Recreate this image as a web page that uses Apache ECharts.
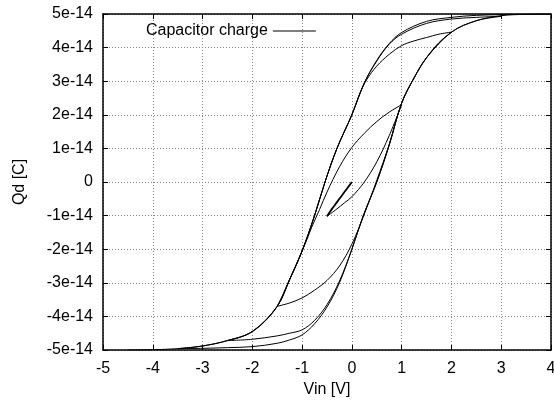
<!DOCTYPE html>
<html><head><meta charset="utf-8">
<script src="https://cdn.jsdelivr.net/npm/echarts@6/dist/echarts.min.js"></script>
<style>html,body{margin:0;padding:0;background:#fff}#c{width:554px;height:401px}</style>
</head><body><div id="c"></div>
<script>
// Values in units of 1e-14 C, [Vin, Qd]
const UNIT = 1e-14;
const xTicks = [-5,-4,-3,-2,-1,0,1,2,3,4];
const yTicks = [-5,-4,-3,-2,-1,0,1,2,3,4,5];
const sweep0 = [[0,0],[-0.1,-0.2],[-0.2,-0.4],[-0.3,-0.6],[-0.4,-0.8],[-0.5,-1.02]];
const sweep1 = [[-0.5,-1.02],[-0.3,-0.8],[-0.15,-0.62],[0,-0.44],[0.25,0.0],[0.5,0.6],[0.75,1.38],[1,2.3]];
const sweep2 = [[1,2.3],[0.75,2.08],[0.5,1.8],[0.25,1.45],[0,1.03],[-0.25,0.45],[-0.5,-0.3],[-0.65,-0.82],[-0.8,-1.32],[-0.9,-1.7],[-1,-2.05],[-1.1,-2.4],[-1.25,-2.9],[-1.4,-3.4],[-1.5,-3.7]];
const sweep3 = [[-1.5,-3.7],[-1.25,-3.6],[-1,-3.45],[-0.75,-3.22],[-0.5,-2.93],[-0.25,-2.5],[0,-1.85],[0.25,-0.95],[0.5,0.05],[0.75,1.12],[1,2.35],[1.25,3.1],[1.5,3.7],[1.75,4.15],[2,4.46]];
const sweep4 = [[2,4.46],[1.75,4.4],[1.5,4.3],[1.25,4.2],[1,4.06],[0.75,3.8],[0.5,3.45],[0.3,3.05],[0.15,2.6],[0,2.0],[-0.3,1.0],[-0.54,0],[-0.75,-1.0],[-1,-2.05],[-1.25,-2.9],[-1.5,-3.7],[-1.75,-4.15],[-2,-4.45],[-2.25,-4.62],[-2.5,-4.72]];
const sweep5 = [[-2.5,-4.72],[-2,-4.68],[-1.5,-4.58],[-1.25,-4.5],[-1,-4.4],[-0.75,-4.12],[-0.5,-3.65],[-0.25,-2.95],[0,-2.0],[0.23,-1.0],[0.5,0],[0.75,1.1],[1,2.35],[1.25,3.1],[1.5,3.7],[2,4.46],[2.5,4.8],[3,4.93]];
const sweep6 = [[3,4.93],[2.5,4.9],[2,4.85],[1.5,4.72],[1,4.4],[0.75,4.1],[0.5,3.6],[0.25,2.95],[0,2.0],[-0.3,1.0],[-0.54,0],[-0.75,-1.0],[-1,-2.05],[-1.25,-2.9],[-1.5,-3.7],[-2,-4.45],[-2.5,-4.72],[-3,-4.88],[-3.5,-4.96]];
const sweep7 = [[-3.5,-4.96],[-3,-4.95],[-2.5,-4.93],[-2,-4.9],[-1.5,-4.8],[-1.25,-4.7],[-1,-4.55],[-0.75,-4.22],[-0.5,-3.72],[-0.25,-3.0],[0,-2.0],[0.23,-1.0],[0.5,0],[0.75,1.1],[1,2.35],[1.25,3.1],[1.5,3.7],[2,4.46],[2.5,4.8],[3,4.95],[3.5,4.99],[4,5.0]];
const sweep8 = [[4,5.0],[3.5,4.99],[3,4.98],[2.5,4.96],[2,4.9],[1.5,4.78],[1,4.45],[0.75,4.12],[0.5,3.62],[0.25,2.95],[0,2.0],[-0.3,1.0],[-0.54,0],[-0.75,-1.0],[-1,-2.05],[-1.25,-2.9],[-1.5,-3.7],[-2,-4.45],[-2.5,-4.72],[-3,-4.88],[-3.5,-4.96],[-4,-4.99],[-4.5,-5.0]];
const sweeps = [sweep0,sweep1,sweep2,sweep3,sweep4,sweep5,sweep6,sweep7,sweep8];

const FONT = 'Liberation Sans, Arial, sans-serif';
const chart = echarts.init(document.getElementById('c'), null, {renderer:'canvas'});
const fmtY = v => { const n = Math.round(v / UNIT); return n === 0 ? '0' : n + 'e-14'; };
const axisCommon = {
  axisLine:{show:true,onZero:false,lineStyle:{color:'#000',width:1.5}},
  axisTick:{show:true,inside:true,length:5,lineStyle:{color:'#000',width:1}},
};
chart.setOption({
  animation:false,
  backgroundColor:'#fff',
  grid:{left:103,right:3,top:14,bottom:51,containLabel:false,outerBoundsMode:'none'},
  legend:{
    show:true, orient:'horizontal',
    data:['Capacitor charge'], left:141, top:18, right:'auto', bottom:'auto', align:'right',
    itemWidth:43, itemHeight:1, itemGap:10,
    icon:'rect',
    textStyle:{fontFamily:FONT,fontSize:16,color:'#000',padding:[0,0,0,0]},
    itemStyle:{color:'#000',borderWidth:0}
  },
  xAxis:[
    Object.assign({type:'value',min:xTicks[0],max:xTicks[xTicks.length-1],interval:1,position:'bottom',
      name:'Vin [V]',nameLocation:'middle',nameGap:31,
      nameTextStyle:{fontFamily:FONT,fontSize:16,color:'#000'},
      axisLabel:{fontFamily:FONT,fontSize:16,color:'#000',margin:11},
      splitLine:{show:true,lineStyle:{color:'#888',type:[1,2],width:1}}},axisCommon),
    Object.assign({type:'value',min:xTicks[0],max:xTicks[xTicks.length-1],interval:1,position:'top',
      axisLabel:{show:false},splitLine:{show:false}},axisCommon)
  ],
  yAxis:[
    Object.assign({type:'value',min:yTicks[0]*UNIT,max:yTicks[yTicks.length-1]*UNIT,interval:UNIT,position:'left',
      name:'Qd [C]',nameLocation:'middle',nameGap:75,nameRotate:90,
      nameTextStyle:{fontFamily:FONT,fontSize:16,color:'#000'},
      axisLabel:{fontFamily:FONT,fontSize:16,color:'#000',margin:10,formatter:fmtY},
      splitLine:{show:true,lineStyle:{color:'#888',type:[1,2],width:1}}},axisCommon),
    Object.assign({type:'value',min:yTicks[0]*UNIT,max:yTicks[yTicks.length-1]*UNIT,interval:UNIT,position:'right',
      axisLabel:{show:false},splitLine:{show:false}},axisCommon)
  ],
  series: sweeps.map((s, i) => ({
    name:'Capacitor charge', type:'line', xAxisIndex:0, yAxisIndex:0,
    data: s.map(p => [p[0], p[1]*UNIT]),
    showSymbol:false, symbol:'none', smooth:0.35,
    lineStyle:{color:'#000',width: i === 0 ? 1.8 : 1}, itemStyle:{color:'#000'}
  }))
});
</script></body></html>
